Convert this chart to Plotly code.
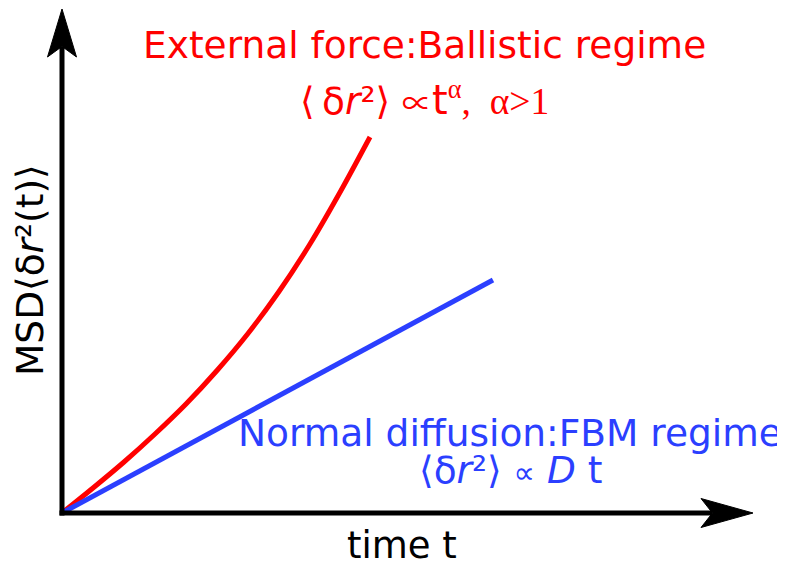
import plotly.graph_objects as go

# Data (arbitrary units; time vs MSD)
red_t = [0.0, 0.62, 1.24, 1.86, 2.48, 3.10, 3.72, 4.34, 4.96, 5.58, 6.16]
red_msd = [0.0, 0.50, 1.02, 1.58, 2.18, 2.85, 3.59, 4.43, 5.38, 6.45, 7.52]
blue_t = [0.0, 8.62]
blue_msd = [0.0, 4.66]

RED = "#ff0000"
BLUE = "#2b3fff"
SANS = "DejaVu Sans"
SERIF = "Liberation Serif"

# axis extents (data units); page body has an 8px margin
X0 = -1.08
X1 = X0 + 785 / 50
Y1 = 10.1
Y0 = Y1 - 563 / 50
XTIP, YTIP = 13.82, 10.08

fig = go.Figure()
fig.add_trace(go.Scatter(x=red_t, y=red_msd, mode="lines",
                         line=dict(color=RED, width=5, shape="spline", smoothing=0.8),
                         showlegend=False, hoverinfo="skip"))
fig.add_trace(go.Scatter(x=blue_t, y=blue_msd, mode="lines", line=dict(color=BLUE, width=5),
                         showlegend=False, hoverinfo="skip"))

# axes with arrowheads
hl_y = 0.96
hl_x = 1.04
hw = 0.29
notch = 0.78
fig.add_shape(type="line", x0=-0.05, y0=0, x1=XTIP - hl_x * notch, y1=0, line=dict(color="black", width=5))
fig.add_shape(type="line", x0=0, y0=-0.05, x1=0, y1=YTIP - hl_y * notch, line=dict(color="black", width=5))
fig.add_shape(type="path",
              path=f"M {XTIP},0 L {XTIP-hl_x},{hw} L {XTIP-hl_x*notch},0 L {XTIP-hl_x},{-hw} Z",
              fillcolor="black", line=dict(color="black", width=1))
fig.add_shape(type="path",
              path=f"M 0,{YTIP} L {-hw},{YTIP-hl_y} L 0,{YTIP-hl_y*notch} L {hw},{YTIP-hl_y} Z",
              fillcolor="black", line=dict(color="black", width=1))

def ann(x, y, text, color, size=37.5, angle=0, family=SANS):
    fig.add_annotation(x=x, y=y, xref="x", yref="y", text=text, showarrow=False,
                       font=dict(family=family, size=size, color=color), textangle=angle,
                       xanchor="center", yanchor="middle")

ann(7.24, 9.36, "External force:Ballistic regime", RED)
ann(7.24, 8.28,
    "⟨\u2009δ<i>r</i>²⟩ <span style='font-family:Noto Sans CJK JP;font-size:30px'>∝</span>"
    "<span style='font-size:40px'>t</span>"
    "<sup><span style='font-family:Liberation Serif'>α</span></sup>"
    "<span style='font-family:Liberation Serif'>,  α>1</span>", RED)
ann(8.96, 1.6, "Normal diffusion:FBM regime", BLUE)
ann(8.96, 0.86, "⟨δ<i>r</i>²⟩ <span style='font-size:30px'>∝</span> <i>D</i> t", BLUE)
ann(6.8, -0.64, "time t", "black", size=37)
ann(-0.64, 4.86, "MSD⟨δ<i>r</i>²(t)⟩", "black", size=37.5, angle=-90)

fig.update_layout(width=785, height=563, margin=dict(l=0, r=0, t=0, b=0),
                  paper_bgcolor="white", plot_bgcolor="white",
                  xaxis=dict(range=[X0, X1], visible=False, fixedrange=True),
                  yaxis=dict(range=[Y0, Y1], visible=False, fixedrange=True),
                  showlegend=False)
fig.write_html("out.html")
